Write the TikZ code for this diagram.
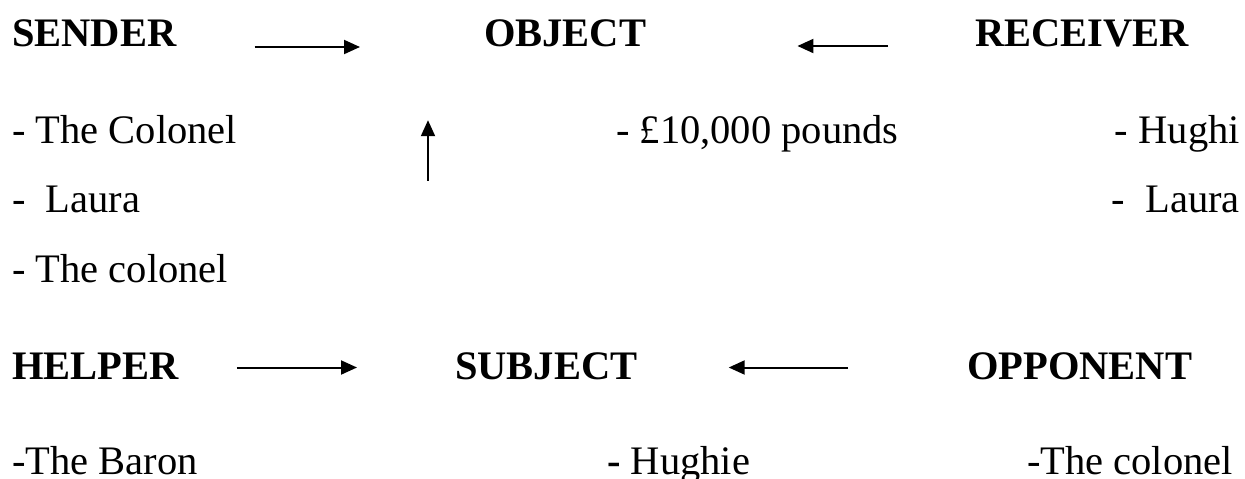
\documentclass[tikz,border=0pt]{standalone}
\usepackage{fontspec}
\setmainfont{Liberation Serif}
\usetikzlibrary{arrows.meta}

\tikzset{
  role/.style={font=\fontsize{40.5}{48}\selectfont\bfseries, inner sep=0pt, text height=27pt, text depth=0pt},
  item/.style={font=\fontsize{40.5}{48}\selectfont, inner sep=0pt},
  arr/.style={line width=2pt, -{Triangle[length=16pt, width=14pt]}}
}

\begin{document}
\begin{tikzpicture}[x=1pt, y=-1pt]
        \useasboundingbox (0,0) rectangle (1245,479);

        % roles
        \node[role, anchor=base west] (sender) at (12,46) {SENDER};
        \node[role, anchor=base west] (object) at (484,46) {OBJECT};
        \node[role, anchor=base west] (receiver) at (975,46) {RECEIVER};
        \node[role, anchor=base west] (helper) at (12,379) {HELPER};
        \node[role, anchor=base west] (subject) at (455,379) {SUBJECT};
        \node[role, anchor=base west] (opponent) at (967,379) {OPPONENT};

        % actants
        \node[item, anchor=base west] (colonel1) at (12,143) {- The Colonel};
        \node[item, anchor=base west] (laura1) at (12,212) {-\ \ Laura};
        \node[item, anchor=base west] (colonel2) at (12,282) {- The colonel};
        \node[item, anchor=base west] (money) at (616,143) {- \pounds10,000 pounds};
        \node[item, anchor=base east] (hughi) at (1240,143) {- Hughi};
        \node[item, anchor=base east] (laura2) at (1240,212) {-\ \ Laura};
        \node[item, anchor=base west] (baron) at (12,474) {-The Baron};
        \node[item, anchor=base west] (hughie) at (607,474) {\textbf{-} Hughie};
        \node[item, anchor=base east] (colonel3) at (1233,474) {-The colonel};

        \draw[arr, shorten <=78pt, shorten >=124pt] ([yshift=-1pt]sender.base east) -- ([yshift=-1pt]object.base west);
        \draw[arr, shorten <=87pt, shorten >=151pt] (receiver.base west) -- (object.base east);
        \draw[arr, shorten <=171pt, shorten >=74pt] ([xshift=-27pt]subject.north west) -- ([xshift=-56pt]object.south west);
        \draw[arr, shorten <=58pt, shorten >=98pt] ([yshift=11.5pt]helper.base east) -- ([yshift=11.5pt]subject.base west);
        \draw[arr, shorten <=119pt, shorten >=91pt] ([yshift=11.5pt]opponent.base west) -- ([yshift=11.5pt]subject.base east);
\end{tikzpicture}
\end{document}
